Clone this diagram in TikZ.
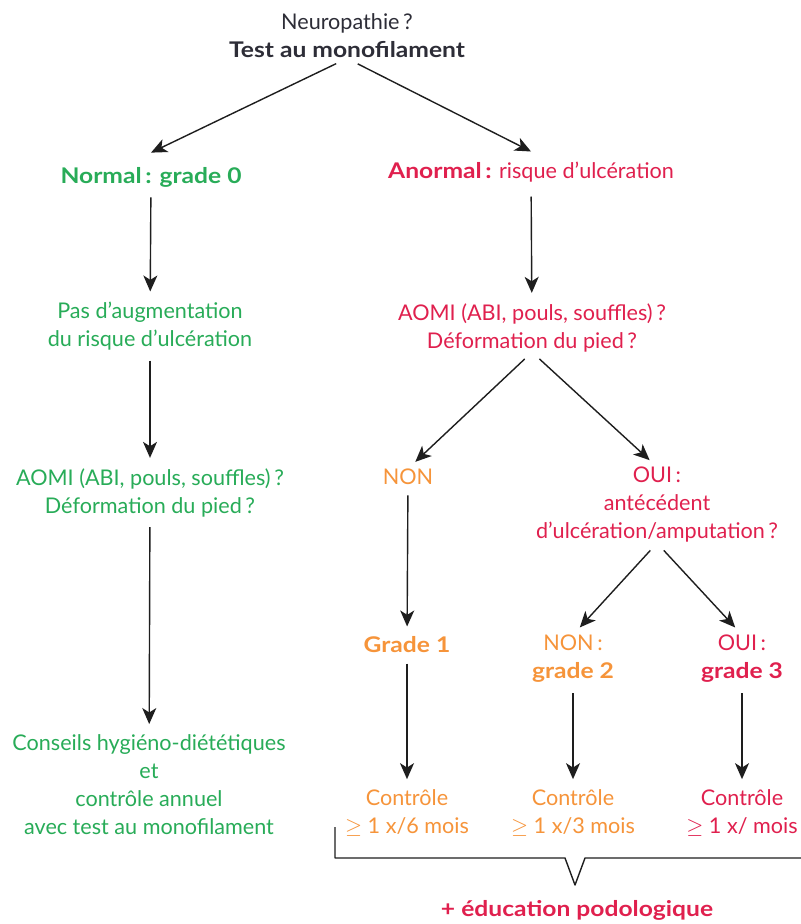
\documentclass[tikz,border=0pt]{standalone}
\usepackage{fontspec}
\setmainfont{Lato}[BoldFeatures={FakeStretch=1.14}]
\usetikzlibrary{arrows.meta}
\definecolor{vertc}{RGB}{40,172,88}
\definecolor{rougec}{RGB}{224,32,78}
\definecolor{orangec}{RGB}{246,148,58}
\definecolor{titrec}{RGB}{45,45,55}
\definecolor{traitc}{RGB}{30,30,30}
\tikzset{
  txt/.style={align=center, inner sep=0pt},
  txttitre/.style={txt, text=titrec},
  txtvert/.style={txt, text=vertc},
  txtrouge/.style={txt, text=rougec},
  txtorange/.style={txt, text=orangec},
  fleche/.style={->, draw=traitc, line width=0.7pt, shorten <=5pt, shorten >=5pt},
}
\begin{document}
\begin{tikzpicture}[x=0.5pt, y=-0.5pt, font=\fontsize{10.8}{14}\selectfont,
  line join=round, >={Stealth[length=8pt,width=7pt,inset=2.2pt]}]
\useasboundingbox (0,0) rectangle (800,924);
\fill[white] (0,0) rectangle (800,924);
% test de depart
\node[txttitre] (neuro) at (347,36) {Neuropathie\,?\\\textbf{Test au monofilament}};
\node[txtvert] (normal) at (151,177) {\textbf{Normal\,: grade 0}};
\node[txtrouge] (anormal) at (531,172) {\textbf{Anormal\,:} risque d’ulcération};
% branche normale
\node[txtvert] (pas) at (150,326) {Pas d’augmentation\\du risque d’ulcération};
\node[txtvert] (aomiG) at (150,492.5) {AOMI (ABI, pouls, souffles)\,?\\Déformation du pied\,?};
\node[txtvert] (conseils) at (149,784.5) {Conseils hygiéno-diététiques\\et\\contrôle annuel\\avec test au monofilament};
% branche anormale
\node[txtrouge] (aomiR) at (532,327.5) {AOMI (ABI, pouls, souffles)\,?\\Déformation du pied\,?};
\node[txtorange] (non) at (408,477) {NON};
\node[txtrouge] (oui) at (657,505) {OUI\,:\\antécédent\\d’ulcération/amputation\,?};
\node[txtorange] (grade1) at (407,645) {\textbf{Grade 1}};
\node[txtorange] (grade2) at (573,659) {NON\,:\\\textbf{grade 2}};
\node[txtrouge] (grade3) at (742,659) {OUI\,:\\\textbf{grade 3}};
\node[txtorange] (ctrl1) at (407,813) {Contrôle\\$\geq$ 1 x/6 mois};
\node[txtorange] (ctrl2) at (573,813) {Contrôle\\$\geq$ 1 x/3 mois};
\node[txtrouge] (ctrl3) at (742,813) {Contrôle\\$\geq$ 1 x/ mois};
\node[txtrouge] (educ) at (577,910) {\textbf{+ éducation podologique}};
% fleches
\draw[fleche, shorten <=6pt, shorten >=0pt] (neuro.south) -- ([yshift=7pt]normal.north);
\draw[fleche, shorten <=6pt, shorten >=0pt] (neuro.south) -- ([yshift=5pt]anormal.north);
\draw[fleche] (normal) -- (pas);
\draw[fleche] (pas) -- (aomiG);
\draw[fleche] (aomiG) -- (conseils);
\draw[fleche, shorten <=7pt] (anormal) -- (aomiR);
\draw[fleche] (aomiR.south) -- (non.north);
\draw[fleche] (aomiR.south) -- (oui.north);
\draw[fleche] (non) -- (grade1);
\draw[fleche] (oui.south) -- (grade2.north);
\draw[fleche] (oui.south) -- (grade3.north);
\draw[fleche] (grade1) -- (ctrl1);
\draw[fleche] (grade2) -- (ctrl2);
\draw[fleche] (grade3) -- (ctrl3);
% accolade
\draw[traitc, line width=0.7pt] (335,827) |- (565,858) -- (575,885) -- (585,858) -- (805,858);
\end{tikzpicture}
\end{document}
